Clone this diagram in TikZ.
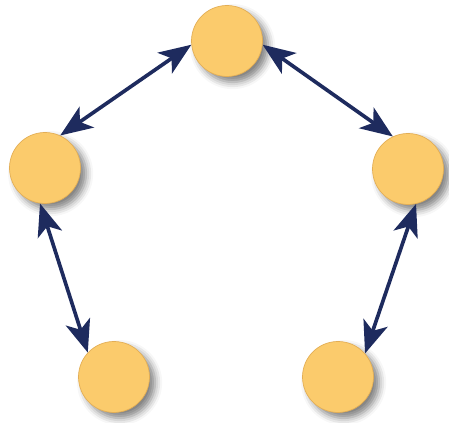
\documentclass[tikz,border=0pt]{standalone}
\usepackage{tikz}
\usetikzlibrary{arrows.meta, shadows.blur}
\usepackage{xcolor}
\definecolor{peer}{HTML}{FBCB6C}
\definecolor{peerrim}{HTML}{E3AE55}
\definecolor{link}{HTML}{1E2B5E}

\begin{document}
\begin{tikzpicture}[
  peernode/.style={circle, fill=peer, draw=peerrim, line width=0.5pt,
    minimum size=1.775cm, inner sep=0pt,
    blur shadow={shadow xshift=4pt, shadow yshift=-4pt,
      shadow blur radius=5pt, shadow opacity=50}},
  arr/.style={line width=2.6pt, draw=link,
    {Stealth[length=23pt, width=18pt, inset=6pt]}-{Stealth[length=23pt, width=18pt, inset=6pt]}}
]
\useasboundingbox (0,0) rectangle (11.225,10.575);

\node[peernode] (top)   at (5.675, 9.55) {};
\node[peernode] (left)  at (1.125, 6.375) {};
\node[peernode] (right) at (10.2, 6.35) {};
\node[peernode] (botl)  at (2.85, 1.15) {};
\node[peernode] (botr)  at (8.45, 1.15) {};

\draw[arr] (left.65)   -- (top.186);
\draw[arr] (top.-6)    -- (right.115);
\draw[arr] (left.262)  -- (botl.137);
\draw[arr] (right.283) -- (botr.41);
\end{tikzpicture}
\end{document}
